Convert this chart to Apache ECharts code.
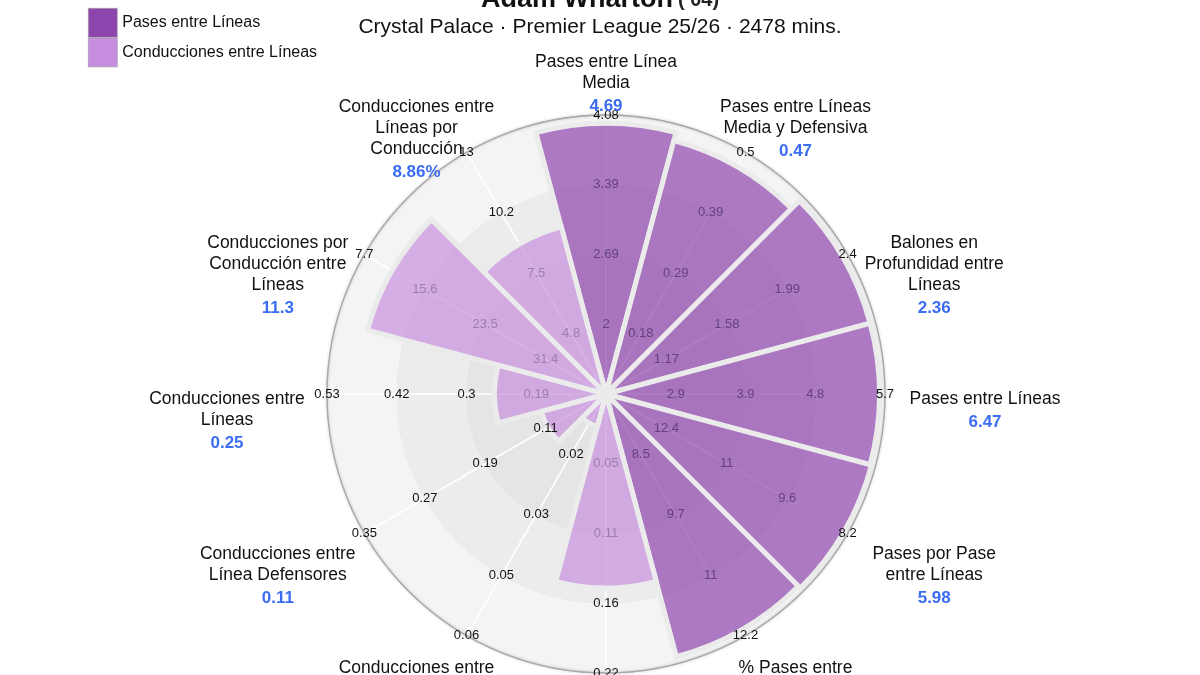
<!DOCTYPE html>
<html>
<head>
<meta charset="utf-8">
<title>Adam Wharton – Pases y Conducciones entre Líneas</title>
<script src="https://cdn.jsdelivr.net/npm/echarts@6.0.0/dist/echarts.min.js"></script>
<style>
  html, body { margin: 0; padding: 0; background: #fff; }
  #chart { width: 1200px; height: 675px; }
</style>
</head>
<body>
<div id="chart"></div>
<script>
(() => {
  "use strict";

  // slices clockwise from the top
  const categories = [
    "Pases entre Línea\nMedia",
    "Pases entre Líneas\nMedia y Defensiva",
    "Balones en\nProfundidad entre\nLíneas",
    "Pases entre Líneas",
    "Pases por Pase\nentre Líneas",
    "% Pases entre\nLíneas",
    "Conducciones entre\nLínea Media",
    "Conducciones entre\nLíneas Media y\nDefensiva",
    "Conducciones entre\nLínea Defensores",
    "Conducciones entre\nLíneas",
    "Conducciones por\nConducción entre\nLíneas",
    "Conducciones entre\nLíneas por\nConducción",
  ];
  const displayValues = ["4.69", "0.47", "2.36", "6.47", "5.98", "13.1%",
    "0.14", "0.01", "0.11", "0.25", "11.3", "8.86%"];
  // bar length (percentile-like score, 0-100)
  const scores = [97, 94, 98, 98, 98.5, 97.5, 69.5, 12, 24, 40, 88.5, 62];
  const groups = ["pases", "pases", "pases", "pases", "pases", "pases",
    "cond", "cond", "cond", "cond", "cond", "cond"];
  // tick labels at 25 / 50 / 75 / 100 of each slice
  const tickLevels = [25, 50, 75, 100];
  const tickLabels = [
    ["2", "2.69", "3.39", "4.08"],
    ["0.18", "0.29", "0.39", "0.5"],
    ["1.17", "1.58", "1.99", "2.4"],
    ["2.9", "3.9", "4.8", "5.7"],
    ["12.4", "11", "9.6", "8.2"],
    ["8.5", "9.7", "11", "12.2"],
    ["0.05", "0.11", "0.16", "0.22"],
    ["0.02", "0.03", "0.05", "0.06"],
    ["0.11", "0.19", "0.27", "0.35"],
    ["0.19", "0.3", "0.42", "0.53"],
    ["31.4", "23.5", "15.6", "7.7"],
    ["4.8", "7.5", "10.2", "13"],
  ];
  const legendNames = ["Pases entre Líneas", "Conducciones entre Líneas"];

  const FONT = "'Liberation Sans', Arial, Helvetica, sans-serif";
  const CENTER = [606, 394];
  const RADIUS = 279;
  const colors = {
    pases: "rgba(142,68,173,0.7)",
    cond: "rgba(201,144,224,0.7)",
    pasesSolid: "#8e44ad",
    condSolid: "#c78ee0",
    pasesText: "#65427e",
    condText: "#9d7dae",
    value: "#3b6cf4",
  };

  const barData = (group) => scores.map((s, i) => (groups[i] === group ? s : "-"));

  const tickData = [];
  categories.forEach((_name, i) => {
    tickLevels.forEach((level, k) => {
      const inside = level < scores[i] - 2;
      tickData.push({
        value: [level, i],
        label: {
          formatter: tickLabels[i][k],
          color: inside ? (groups[i] === "pases" ? colors.pasesText : colors.condText) : "#111",
        },
      });
    });
  });

  // category label blocks sit on a slightly flattened ring outside the pizza
  function labelOffset(i) {
    const theta = (90 - 30 * i) * Math.PI / 180;
    const c = Math.cos(theta);
    const s = Math.sin(theta);
    const ry = 311 + 26 * Math.min(1, Math.max(0, (s - 0.5) / 0.366));
    return [(379 - RADIUS) * c, 5 - (ry - RADIUS) * s - 10.5];
  }

  const nameData = categories.map((name, i) => ({
    value: [100, i],
    label: {
      offset: labelOffset(i),
      formatter: name.split("\n").map((l) => `{n|${l}}`).join("\n") + `\n{v|${displayValues[i]}}`,
    },
  }));

  const chart = echarts.init(document.getElementById("chart"), null, { renderer: "canvas" });
  chart.setOption({
    animation: false,
    backgroundColor: "#fff",
    textStyle: { fontFamily: FONT },
    title: [
      {
        text: "{a|Adam Wharton} {b|(’04)}",
        left: "center",
        top: -15,
        padding: 0,
        textStyle: {
          rich: {
            a: { fontSize: 27, fontWeight: "bold", color: "#111", fontFamily: FONT, lineHeight: 30 },
            b: { fontSize: 20, color: "#222", fontFamily: FONT, lineHeight: 30 },
          },
        },
      },
      {
        text: "Crystal Palace · Premier League 25/26 · 2478 mins.",
        left: "center",
        top: 15,
        padding: 0,
        textStyle: { fontSize: 21, fontWeight: "normal", color: "#111", fontFamily: FONT, lineHeight: 24 },
      },
    ],
    legend: {
      orient: "vertical",
      left: 88,
      top: 8,
      itemWidth: 29,
      itemHeight: 29,
      itemGap: 0,
      padding: 0,
      icon: "rect",
      textStyle: { fontSize: 16, color: "#111", fontFamily: FONT },
      data: [
        { name: legendNames[0], itemStyle: { color: colors.pasesSolid, borderColor: "#9a9a9a", borderWidth: 0.6, opacity: 1 } },
        { name: legendNames[1], itemStyle: { color: colors.condSolid, borderColor: "#9a9a9a", borderWidth: 0.6, opacity: 1 } },
      ],
    },
    polar: [
      { center: CENTER, radius: RADIUS },
      { center: CENTER, radius: RADIUS },
    ],
    angleAxis: [
      {
        polarIndex: 0,
        type: "value",
        min: 0,
        max: 360,
        interval: 30,
        startAngle: 90,
        z: 1,
        axisLine: { show: true, lineStyle: { color: "#a8a8a8", width: 1.3, shadowBlur: 3, shadowColor: "rgba(0,0,0,0.25)" } },
        axisTick: { show: false },
        axisLabel: { show: false },
        splitLine: { show: true, lineStyle: { color: "#ffffff", width: 1.6 } },
      },
      {
        polarIndex: 1,
        type: "category",
        data: categories,
        startAngle: 105,
        boundaryGap: true,
        axisLine: { show: false },
        axisTick: { show: false },
        axisLabel: { show: false },
        splitLine: { show: false },
      },
    ],
    radiusAxis: [
      {
        polarIndex: 0,
        type: "value",
        min: 0,
        max: 100,
        interval: 25,
        z: 0,
        axisLine: { show: false },
        axisTick: { show: false },
        axisLabel: { show: false },
        splitLine: { show: true, lineStyle: { color: "#c4c4c4", width: 1 } },
        splitArea: { show: true, areaStyle: { color: ["#e3e3e3", "#e5e5e5", "#ececec", "#f4f4f4"] } },
      },
      {
        polarIndex: 1,
        type: "value",
        min: 0,
        max: 100,
        show: false,
        splitLine: { show: false },
      },
    ],
    series: [
      {
        name: legendNames[0],
        type: "bar",
        coordinateSystem: "polar",
        polarIndex: 1,
        stack: "pizza",
        barCategoryGap: "0%",
        data: barData("pases"),
        itemStyle: { color: colors.pases, borderColor: "#ebebeb", borderWidth: 5 },
        z: 2,
      },
      {
        name: legendNames[1],
        type: "bar",
        coordinateSystem: "polar",
        polarIndex: 1,
        stack: "pizza",
        barCategoryGap: "0%",
        data: barData("cond"),
        itemStyle: { color: colors.cond, borderColor: "#ebebeb", borderWidth: 5 },
        z: 2,
      },
      {
        name: "ticks",
        type: "scatter",
        coordinateSystem: "polar",
        polarIndex: 1,
        symbolSize: 0,
        silent: true,
        z: 5,
        itemStyle: { opacity: 1 },
        label: { show: true, position: "inside", fontSize: 13, fontFamily: FONT },
        data: tickData,
      },
      {
        name: "names",
        type: "scatter",
        coordinateSystem: "polar",
        polarIndex: 1,
        symbolSize: 0,
        silent: true,
        z: 6,
        itemStyle: { opacity: 1 },
        label: {
          show: true,
          position: [0, 0],
          align: "center",
          verticalAlign: "top",
          rich: {
            n: { fontSize: 17.5, lineHeight: 21, color: "#111", fontFamily: FONT, align: "center" },
            v: { fontSize: 17, lineHeight: 25, color: colors.value, fontWeight: "bold", fontFamily: FONT, align: "center" },
          },
        },
        data: nameData,
      },
    ],
  });
})();
</script>
</body>
</html>
